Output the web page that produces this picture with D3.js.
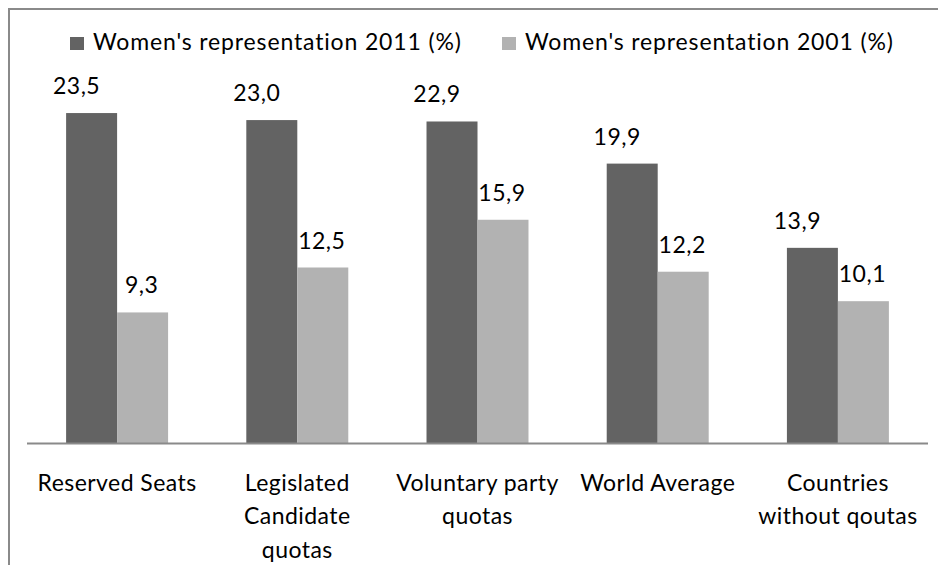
<!DOCTYPE html>
<html>
<head>
<meta charset="utf-8">
<script src="https://cdn.jsdelivr.net/npm/d3@7/dist/d3.min.js"></script>
<style>
  html, body { margin: 0; padding: 0; background: #fff; }
  svg { display: block; font-family: Lato, "Open Sans", sans-serif; }
</style>
</head>
<body>
<svg id="chart" width="938" height="565"></svg>
<script>
// Category labels, one entry per line of the wrapped label
const categories = ["Reserved Seats", "Legislated Candidate quotas", "Voluntary party quotas", "World Average", "Countries without qoutas"];
const categoryLines = [
  ["Reserved Seats"],
  ["Legislated", "Candidate", "quotas"],
  ["Voluntary party", "quotas"],
  ["World Average"],
  ["Countries", "without qoutas"]
];
const seriesNames = ["Women's representation 2011 (%)", "Women's representation 2001 (%)"];
const values2011 = [23.5, 23.0, 22.9, 19.9, 13.9];
const values2001 = [9.3, 12.5, 15.9, 12.2, 10.1];
const colors = ["#636363", "#b2b2b2"];

const fmt = v => d3.format(".1f")(v).replace(".", ",");

const svg = d3.select("#chart");
const W = 938, H = 565;
const plot = { left: 27, right: 928, base: 443, top: 92 };

// outer frame
svg.append("rect")
  .attr("x", 9).attr("y", 9)
  .attr("width", W + 20).attr("height", H + 20)
  .attr("fill", "none").attr("stroke", "#8a8a8a").attr("stroke-width", 2);

const x0 = d3.scaleBand().domain(categories).range([plot.left, plot.right]).padding(0);
const x1 = d3.scaleBand().domain(seriesNames).range([0, x0.bandwidth()]).paddingInner(0).paddingOuter(0.767);
const y = d3.scaleLinear().domain([0, 25]).range([plot.base, plot.top]);

const rows = categories.map((c, i) => ({ cat: c, lines: categoryLines[i], vals: [values2011[i], values2001[i]] }));

const groups = svg.append("g").selectAll("g").data(rows).join("g")
  .attr("transform", d => `translate(${x0(d.cat)},0)`);

groups.selectAll("rect").data(d => d.vals.map((v, k) => ({ v, k }))).join("rect")
  .attr("x", d => x1(seriesNames[d.k]))
  .attr("width", x1.bandwidth())
  .attr("y", d => y(d.v))
  .attr("height", d => y(0) - y(d.v))
  .attr("fill", d => colors[d.k]);

// value labels above the bars
groups.selectAll("text.val").data(d => d.vals.map((v, k) => ({ v, k }))).join("text")
  .attr("class", "val")
  .attr("x", d => x1(seriesNames[d.k]) + x1.bandwidth() / 2 + (d.k === 0 ? -15 : -1))
  .attr("y", d => y(d.v) - 19)
  .attr("text-anchor", "middle")
  .attr("font-size", 23)
  .attr("letter-spacing", 0.5)
  .attr("fill", "#000")
  .text(d => fmt(d.v));

// baseline
svg.append("line")
  .attr("x1", plot.left).attr("x2", plot.right)
  .attr("y1", plot.base + 0.5).attr("y2", plot.base + 0.5)
  .attr("stroke", "#8a8a8a").attr("stroke-width", 2);

// category labels
groups.each(function (d) {
  const t = d3.select(this).append("text")
    .attr("text-anchor", "middle")
    .attr("font-size", 23)
    .attr("letter-spacing", 0.45)
    .attr("fill", "#000");
  d.lines.forEach((ln, j) => {
    t.append("tspan").attr("x", x0.bandwidth() / 2).attr("y", 491 + j * 33.3).text(ln);
  });
});

// legend
const legendX = [70, 502];
const legend = svg.append("g").selectAll("g").data(seriesNames).join("g")
  .attr("transform", (d, i) => `translate(${legendX[i]},0)`);
legend.append("rect").attr("x", 0).attr("y", 37).attr("width", 14).attr("height", 13)
  .attr("fill", (d, i) => colors[i]);
legend.append("text").attr("x", 23).attr("y", 50)
  .attr("font-size", 23).attr("letter-spacing", 0.85)
  .attr("fill", "#000").text(d => d);
</script>
</body>
</html>
